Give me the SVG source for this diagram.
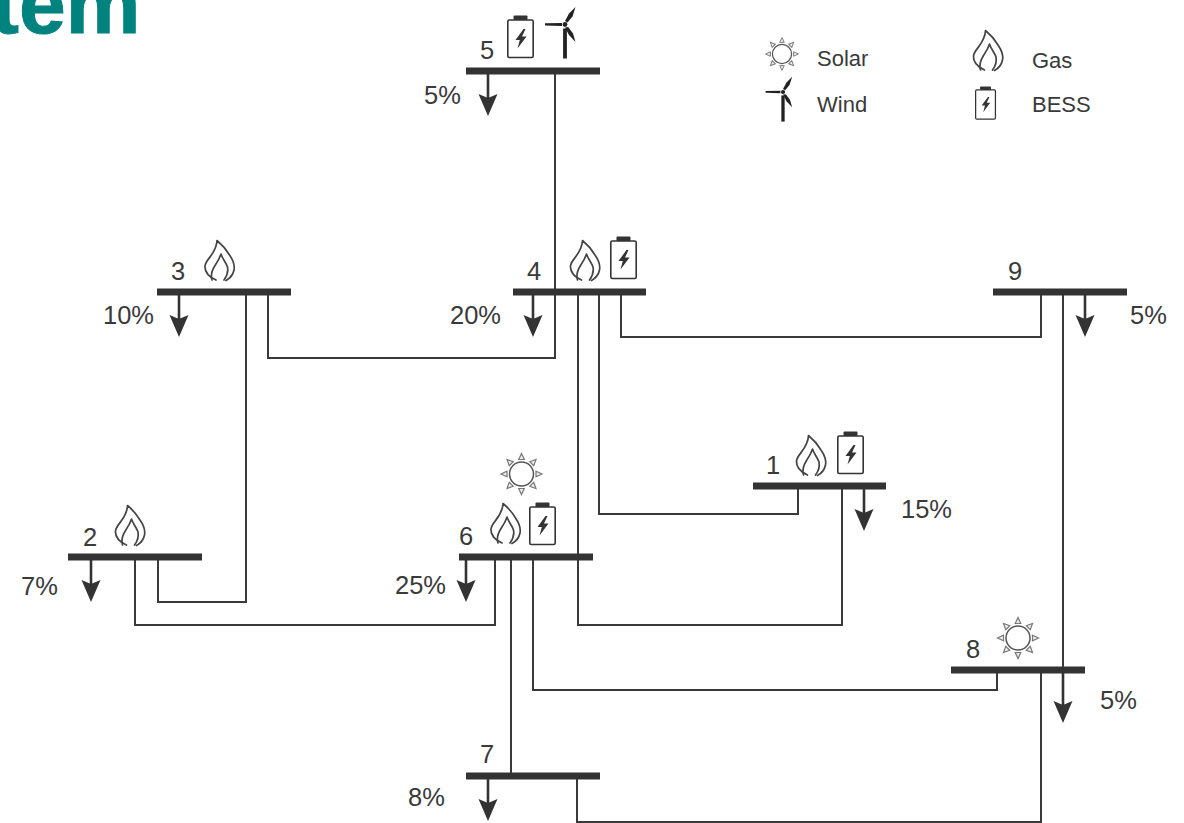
<svg xmlns="http://www.w3.org/2000/svg" width="1184" height="823" viewBox="0 0 1184 823">
<style>
text{font-family:"Liberation Sans",Arial,sans-serif;fill:#3a3a3a}
.t{font-size:25.500px}
.m{text-anchor:middle}
.lg{font-size:22px}
.bus{fill:#333}
.wire{fill:none;stroke:#3a3a3a;stroke-width:2}
.load{fill:none;stroke:#333;stroke-width:2.6}
.head{fill:#333}
.title{font-size:84px;font-weight:700;fill:#00827f;stroke:#00827f;stroke-width:1}
</style>
<defs>
<g id="batt">
<rect x="0.8" y="5" width="25.4" height="37.500" rx="1.500" fill="#fff" stroke="#333" stroke-width="1.600"/>
<rect x="6.500" y="0.500" width="14" height="4.500" rx="1" fill="#333"/>
<path d="M16.500 14 L8.500 25 L12.800 25 L10.500 33.500 L19.500 21.500 L15 21.500 L18.500 14Z" fill="#333"/>
</g>
<g id="flame" fill="none" stroke="#444" stroke-width="1.700" stroke-linecap="round" stroke-linejoin="round">
<path d="M11.500 40 C5 37 0 33 0.500 26 C1 19 12 14 12.500 0.500 C18 5 22 10 25 15 C28.500 20 30.500 25 29.500 30 C28.500 35 26 38 21.500 40.500"/>
<path d="M7.500 40 C5.500 34 8 29.500 10.500 25.500 C12.500 22.500 15 19 16.500 14 C18 19 21.500 22.500 23 27 C24 32 22.500 36 19.500 40"/>
</g>
<g id="turbine" fill="#222">
<rect x="-1.900" y="4" width="3.800" height="30"/>
<circle r="2.400"/>
<path d="M-3 -1.500 L-20 -1.200 L-20 1 L-3 1.500Z"/>
<path d="M0 -3.500 L4 -11 L10.500 -17.500 L7.500 -8 L2.500 -2Z"/>
<path d="M0 3 L3.200 2.500 L8 9 L10.500 17.500 L4 10.500Z"/>
</g>
<g id="sun" fill="#eee" stroke="#777" stroke-width="1.200">
<circle r="12" fill="#fff" stroke="#555" stroke-width="1.500"/>
<g id="ray"><path d="M-2.800 -14.500 L0 -20.500 L2.800 -14.500Z"/></g>
<use href="#ray" transform="rotate(45)"/>
<use href="#ray" transform="rotate(90)"/>
<use href="#ray" transform="rotate(135)"/>
<use href="#ray" transform="rotate(180)"/>
<use href="#ray" transform="rotate(225)"/>
<use href="#ray" transform="rotate(270)"/>
<use href="#ray" transform="rotate(315)"/>
</g>
<path id="ah" class="head" d="M-9.500 -14 L0 -10 L9.500 -14 L0 8Z"/>
</defs>

<text class="title" x="-9" y="33">tem</text>

<g id="connectors">
<path class="wire" d="M555 71V358H268V292"/>
<path class="wire" d="M246 292V602H158V557"/>
<path class="wire" d="M578 292V625H842V486"/>
<path class="wire" d="M599 292V514H798V486"/>
<path class="wire" d="M621 292V337H1041V292"/>
<path class="wire" d="M1063 292V670"/>
<path class="wire" d="M135 557V625H495V557"/>
<path class="wire" d="M511 557V776"/>
<path class="wire" d="M533 557V690H997V670"/>
<path class="wire" d="M577 776V822H1041V670"/>
</g>

<g id="loads">
<path class="load" d="M488 71V105M179 292V326M533 292V326M1085 292V326M864 486V520M91 557V591M466 557V591M1063 670V712M488 776V810"/>
<use href="#ah" x="488" y="108"/>
<use href="#ah" x="179" y="329"/>
<use href="#ah" x="533" y="329"/>
<use href="#ah" x="1085" y="329"/>
<use href="#ah" x="864" y="523"/>
<use href="#ah" x="91" y="594"/>
<use href="#ah" x="466" y="594"/>
<use href="#ah" x="1063" y="715"/>
<use href="#ah" x="488" y="813"/>
</g>

<g id="node-5">
<rect class="bus" x="466" y="67.500" width="134" height="7"/>
<text class="t m" x="487" y="59">5</text>
<text class="t" x="424" y="104">5%</text>
<use href="#batt" x="507" y="15"/>
<use href="#turbine" x="565" y="24.500"/>
</g>
<g id="node-3">
<rect class="bus" x="157" y="288.500" width="134" height="7"/>
<text class="t m" x="178" y="280">3</text>
<text class="t" x="103" y="324">10%</text>
<use href="#flame" x="204.500" y="240"/>
</g>
<g id="node-4">
<rect class="bus" x="513" y="288.500" width="133" height="7"/>
<text class="t m" x="534" y="280">4</text>
<text class="t" x="450" y="324">20%</text>
<use href="#flame" x="570" y="240"/>
<use href="#batt" x="610" y="236"/>
</g>
<g id="node-9">
<rect class="bus" x="993" y="288.500" width="134" height="7"/>
<text class="t m" x="1015" y="280">9</text>
<text class="t" x="1130" y="324">5%</text>
</g>
<g id="node-1">
<rect class="bus" x="753" y="482.500" width="133" height="7"/>
<text class="t m" x="773" y="474">1</text>
<text class="t" x="901" y="518">15%</text>
<use href="#flame" x="796" y="435"/>
<use href="#batt" x="837" y="431"/>
</g>
<g id="node-2">
<rect class="bus" x="68" y="553.500" width="134" height="7"/>
<text class="t m" x="90" y="546">2</text>
<text class="t" x="21" y="595">7%</text>
<use href="#flame" x="115" y="505"/>
</g>
<g id="node-6">
<rect class="bus" x="459" y="553.500" width="134" height="7"/>
<text class="t m" x="466" y="545">6</text>
<text class="t" x="395" y="594">25%</text>
<use href="#flame" x="490.500" y="503"/>
<use href="#batt" x="529" y="502"/>
<use href="#sun" x="521.500" y="474"/>
</g>
<g id="node-8">
<rect class="bus" x="951" y="666.500" width="134" height="7"/>
<text class="t m" x="973" y="658">8</text>
<text class="t" x="1100" y="709">5%</text>
<use href="#sun" x="1018" y="638"/>
</g>
<g id="node-7">
<rect class="bus" x="466" y="772.500" width="134" height="7"/>
<text class="t m" x="487" y="763">7</text>
<text class="t" x="408" y="806">8%</text>
</g>

<g id="legend">
<use href="#sun" transform="translate(782 54) scale(.8)"/>
<text class="lg" x="817" y="66">Solar</text>
<use href="#turbine" transform="translate(783 92) scale(.87)"/>
<text class="lg" x="817" y="112">Wind</text>
<use href="#flame" transform="translate(973 30)"/>
<text class="lg" x="1032" y="68">Gas</text>
<use href="#batt" transform="translate(975 86) scale(.78)"/>
<text class="lg" x="1032" y="112">BESS</text>
</g>
</svg>
